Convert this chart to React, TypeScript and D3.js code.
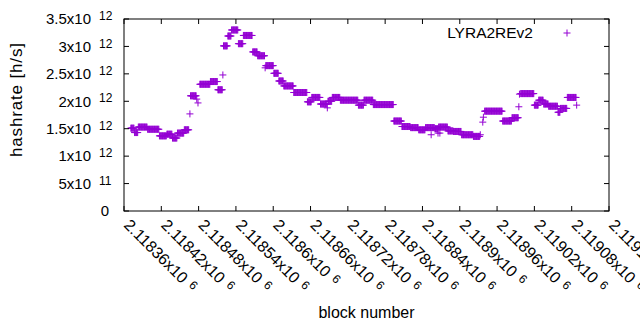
import React from 'react';
import * as d3 from 'd3';

// runs of blocks with the same estimated hashrate (x10^12 h/s)
const runStart = [2118371, 2118377, 2118383, 2118398, 2118417, 2118429, 2118438, 2118446, 2118457, 2118467,
  2118482, 2118499, 2118511, 2118520, 2118527, 2118533, 2118544, 2118552, 2118567, 2118575,
  2118588, 2118601, 2118609, 2118617, 2118633, 2118655, 2118662, 2118676, 2118688, 2118695,
  2118708, 2118737, 2118746, 2118761, 2118794, 2118807, 2118821, 2118834, 2118845, 2118860,
  2118866, 2118881, 2118890, 2118903, 2118922, 2118940, 2118969, 2118984, 2118998, 2119020,
  2119027, 2119035, 2119043, 2119058, 2119062, 2119073];
const runEnd = [2118376, 2118382, 2118397, 2118416, 2118428, 2118437, 2118445, 2118456, 2118464, 2118476,
  2118498, 2118510, 2118518, 2118526, 2118532, 2118543, 2118551, 2118566, 2118574, 2118586,
  2118600, 2118608, 2118616, 2118632, 2118654, 2118661, 2118675, 2118686, 2118694, 2118707,
  2118736, 2118745, 2118760, 2118793, 2118806, 2118820, 2118833, 2118844, 2118859, 2118865,
  2118880, 2118889, 2118902, 2118921, 2118932, 2118968, 2118983, 2118994, 2119019, 2119026,
  2119034, 2119042, 2119057, 2119061, 2119072, 2119087];
const runRate = [1.51, 1.43, 1.53, 1.49, 1.37, 1.40, 1.33, 1.42, 1.48, 2.10,
  2.31, 2.36, 2.21, 3.01, 3.19, 3.30, 3.05, 3.20, 2.90, 2.83,
  2.65, 2.51, 2.37, 2.28, 2.16, 1.99, 2.07, 1.95, 2.00, 2.07,
  2.02, 1.93, 2.02, 1.94, 1.64, 1.54, 1.52, 1.48, 1.52, 1.50,
  1.53, 1.46, 1.45, 1.39, 1.36, 1.82, 1.64, 1.70, 2.14, 1.93,
  2.02, 1.95, 1.91, 1.80, 1.87, 2.07];

// single blocks off their run
const oddBlock = [2118466, 2118477, 2118479, 2118519, 2118587, 2118687, 2118854, 2118865, 2118868,
  2118933, 2118937, 2118938, 2118995, 2118996, 2119088];
const oddRate = [1.77, 2.04, 1.97, 2.48, 2.61, 1.88, 1.39, 1.42, 1.42,
  1.39, 1.62, 1.71, 1.90, 2.13, 1.93];

const xTicks = [2118360, 2118420, 2118480, 2118540, 2118600, 2118660, 2118720,
  2118780, 2118840, 2118900, 2118960, 2119020, 2119080, 2119140];
const xTickLabels = ['2.11836', '2.11842', '2.11848', '2.11854', '2.1186', '2.11866', '2.11872',
  '2.11878', '2.11884', '2.1189', '2.11896', '2.11902', '2.11908', '2.11914'];
const yTicks = [0, 0.5, 1, 1.5, 2, 2.5, 3, 3.5];
const yTickLabels = ['0', '5', '1', '1.5', '2', '2.5', '3', '3.5'];
const yTickExps = ['', '11', '12', '12', '12', '12', '12', '12'];

const W = 640, H = 330;
const margin = { top: 19, right: 31, bottom: 119, left: 124 };
const purple = '#9400d3';
const font = '"Liberation Sans", Arial, sans-serif';

const App = () => {
  const x = d3.scaleLinear().domain([2118360, 2119140]).range([margin.left, W - margin.right]);
  const y = d3.scaleLinear().domain([0, 3.5]).range([H - margin.bottom, margin.top]);
  const x0 = margin.left, x1 = W - margin.right, y0 = H - margin.bottom, y1 = margin.top;
  const tick = 5;

  const pts: [number, number][] = [];
  runStart.forEach((s, i) => {
    d3.range(s, runEnd[i] + 1).forEach(b => pts.push([b, runRate[i]]));
  });
  oddBlock.forEach((b, i) => pts.push([b, oddRate[i]]));

  const plus = (px: number, py: number) => `M${px - 3.5},${py}h7M${px},${py - 3.5}v7`;
  const d = pts.map(p => plus(x(p[0]), y(p[1]))).join('');

  return (
    <svg width={W} height={H} style={{ position: 'absolute', left: 0, top: 0, background: '#fff' }}
      fontFamily={font} fill="#000">
      <path d={d} stroke={purple} strokeWidth={1} fill="none" />

      {/* ticks on all four sides */}
      {yTicks.map((t, i) => (
        <g key={'y' + i}>
          <line x1={x0} x2={x0 + tick} y1={y(t)} y2={y(t)} stroke="#000" />
          <line x1={x1} x2={x1 - tick} y1={y(t)} y2={y(t)} stroke="#000" />
          {yTickExps[i] === '' ? (
            <text x={109} y={y(t)} dy="0.35em" textAnchor="end" fontSize={15}>{yTickLabels[i]}</text>
          ) : (
            <g>
              <text x={91} y={y(t)} dy="0.35em" textAnchor="end" fontSize={15}>{yTickLabels[i]}x10</text>
              <text x={99} y={y(t) - 3} dy="0.35em" fontSize={12}>{yTickExps[i]}</text>
            </g>
          )}
        </g>
      ))}
      {xTicks.map((t, i) => (
        <g key={'x' + i}>
          <line x1={x(t)} x2={x(t)} y1={y0} y2={y0 - tick} stroke="#000" />
          <line x1={x(t)} x2={x(t)} y1={y1} y2={y1 + tick} stroke="#000" />
          <text transform={`translate(${x(t) - 1},${226}) rotate(45)`} fontSize={16}>
            {xTickLabels[i]}x10<tspan dx={6} dy={-4} fontSize={12}>6</tspan>
          </text>
        </g>
      ))}
      <rect x={x0} y={y1} width={x1 - x0} height={y0 - y1} fill="none" stroke="#000" strokeWidth={1} />

      <text transform={`translate(22,100) rotate(-90)`} textAnchor="middle" fontSize={17}
        textLength={114} lengthAdjust="spacing">hashrate [h/s]</text>
      <text x={(x0 + x1) / 2} y={318} textAnchor="middle" fontSize={16}>block number</text>

      <text x={533} y={33} dy="0.35em" textAnchor="end" fontSize={15.5}>LYRA2REv2</text>
      <path d={plus(567, 33)} stroke={purple} strokeWidth={1} />
    </svg>
  );
};

export default App;
